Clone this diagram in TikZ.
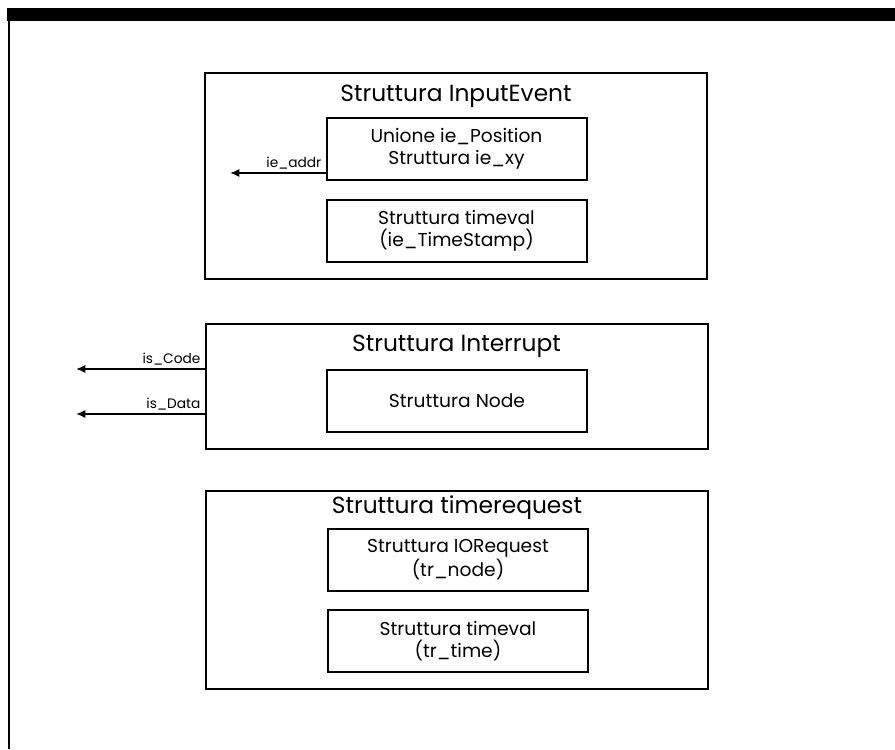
\documentclass[tikz,border=0pt]{standalone}
\usepackage{fontspec}
\setmainfont{Poppins}
\usetikzlibrary{arrows.meta}

\tikzset{every picture/.style={line width=1.5pt}}
\tikzset{
  outerbox/.style={draw, line width=1.5pt, minimum width=376.5pt, inner sep=0pt},
  innerbox/.style={draw, line width=1.5pt, minimum width=195pt, minimum height=46.5pt, inner sep=0pt, align=center, font=\fontsize{14}{16.5}\selectfont},
  titletext/.style={inner sep=0pt, font=\fontsize{17.5}{20}\selectfont},
  fieldlabel/.style={inner sep=2.5pt, font=\fontsize{10.3}{12}\selectfont},
  ptr/.style={-{Latex[length=7pt,width=6pt]}, line width=1.2pt}
}

\begin{document}
\begin{tikzpicture}[x=0.75pt,y=0.75pt,yscale=-1,xscale=1]
\useasboundingbox (0,0) rectangle (895,749);

%Frame
\fill (7,8) rectangle (895,21);
\draw [line width=1.5pt] (9,8) -- (9,749);

%Struttura InputEvent
\node [outerbox, minimum height=154.5pt] (ievent) at (456,176) {};
\node [titletext] (ieventtitle) at (456,96) {Struttura InputEvent};
\node [innerbox] (iepos) at (456.5,149) {Unione ie\_Position\\Struttura ie\_xy};
\node [innerbox] (iestamp) at (456.5,230.5) {Struttura timeval\\(ie\_TimeStamp)};
\coordinate (addrend) at (230,173);
\draw [ptr] (iepos.west |- addrend) node [fieldlabel, above left] {ie\_addr} -- (addrend);

%Struttura Interrupt
\node [outerbox, minimum height=93.75pt] (intr) at (456.5,386.5) {};
\node [titletext] (intrtitle) at (456.5,346) {Struttura Interrupt};
\node [innerbox] (intrnode) at (457,400.5) {Struttura Node};
\coordinate (codeend) at (76,369);
\coordinate (dataend) at (76,414);
\draw [ptr] (intr.west |- codeend) node [fieldlabel, above left] {is\_Code} -- (codeend);
\draw [ptr] (intr.west |- dataend) node [fieldlabel, above left] {is\_Data} -- (dataend);

%Struttura timerequest
\node [outerbox, minimum height=148.5pt] (treq) at (457,590) {};
\node [titletext] (treqtitle) at (457,508) {Struttura timerequest};
\node [innerbox] (trnode) at (458,559.5) {Struttura IORequest\\(tr\_node)};
\node [innerbox] (trtime) at (458,641) {Struttura timeval\\(tr\_time)};

\end{tikzpicture}
\end{document}
